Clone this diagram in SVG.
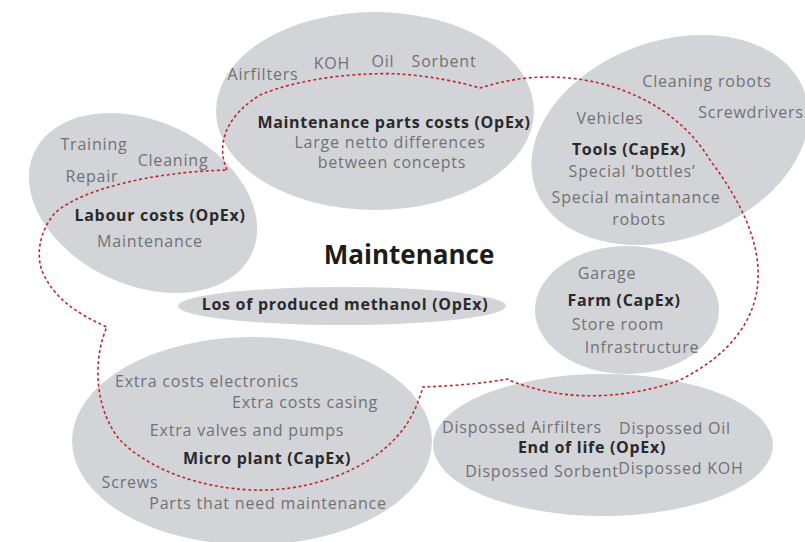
<svg xmlns="http://www.w3.org/2000/svg" width="805" height="542" viewBox="0 0 805 542">
<style>
.bub{fill:#d3d4d8}
text{font-family:"Open Sans","Liberation Sans",sans-serif;font-size:16px;text-anchor:middle}
.g{fill:#707175;letter-spacing:0.8px}
.b{fill:#2a2a2c;font-weight:bold;letter-spacing:0.7px}
.t{fill:#1c1c1c;font-weight:bold;font-size:26px;letter-spacing:0}
.dash{fill:none;stroke:#c0272d;stroke-width:1.6;stroke-dasharray:3 2.6}
</style>
<rect width="805" height="542" fill="#ffffff"/>
<g id="labour">
<ellipse class="bub" cx="143" cy="203" rx="120" ry="82" transform="rotate(25 143 203)"/>
<text class="g" x="94" y="150">Training</text>
<text class="g" x="173" y="166">Cleaning</text>
<text class="g" x="92" y="182">Repair</text>
<text class="b" x="160" y="221">Labour costs (OpEx)</text>
<text class="g" x="150" y="247">Maintenance</text>
</g>
<g id="parts">
<ellipse class="bub" cx="375" cy="111" rx="159" ry="99"/>
<text class="g" x="263" y="80">Airfilters</text>
<text class="g" x="332" y="69">KOH</text>
<text class="g" x="383" y="67">Oil</text>
<text class="g" x="444" y="67">Sorbent</text>
<text class="b" x="394" y="128">Maintenance parts costs (OpEx)</text>
<text class="g" x="390" y="148">Large netto differences</text>
<text class="g" x="392" y="168">between concepts</text>
</g>
<g id="tools">
<ellipse class="bub" cx="670" cy="140" rx="143" ry="99" transform="rotate(-20 670 140)"/>
<text class="g" x="707" y="87">Cleaning robots</text>
<text class="g" x="751" y="118">Screwdrivers</text>
<text class="g" x="610" y="124">Vehicles</text>
<text class="b" x="629" y="155">Tools (CapEx)</text>
<text class="g" x="632" y="177">Special ‘bottles’</text>
<text class="g" x="636" y="203">Special maintanance</text>
<text class="g" x="639" y="225">robots</text>
</g>
<g id="farm">
<ellipse class="bub" cx="627" cy="310" rx="92" ry="64"/>
<text class="g" x="607" y="279">Garage</text>
<text class="b" x="624" y="306">Farm (CapEx)</text>
<text class="g" x="618" y="330">Store room</text>
<text class="g" x="642" y="353">Infrastructure</text>
</g>
<g id="methanol">
<ellipse class="bub" cx="342" cy="306" rx="164" ry="19"/>
<text class="b" x="345" y="310">Los of produced methanol (OpEx)</text>
</g>
<g id="microplant">
<ellipse class="bub" cx="252" cy="441" rx="180" ry="104"/>
<text class="g" x="207" y="387">Extra costs electronics</text>
<text class="g" x="305" y="408">Extra costs casing</text>
<text class="g" x="247" y="436">Extra valves and pumps</text>
<text class="b" x="267" y="464">Micro plant (CapEx)</text>
<text class="g" x="130" y="488">Screws</text>
<text class="g" x="268" y="509">Parts that need maintenance</text>
</g>
<g id="endoflife">
<ellipse class="bub" cx="603" cy="445" rx="170" ry="71"/>
<text class="g" x="522" y="433">Dispossed Airfilters</text>
<text class="g" x="675" y="434">Dispossed Oil</text>
<text class="b" x="592" y="453">End of life (OpEx)</text>
<text class="g" x="542" y="477">Dispossed Sorbent</text>
<text class="g" x="681" y="474">Dispossed KOH</text>
</g>
<g id="title">
<text class="t" x="409" y="264">Maintenance</text>
</g>
<g id="connectors">
<path class="dash" d="M227 170 C218 150,220 120,260 95 C300 78,360 72,400 74 C430 76,460 82,480 88 C500 82,520 77,550 77 C620 78,680 110,710 160 C740 200,760 240,758 280 C756 320,730 355,680 380 C640 395,590 400,550 392 C530 388,515 383,507 379 C480 384,450 386,423 387 C419 400,413 418,400 433 C370 470,310 492,253 490 C200 488,150 470,120 440 C95 410,92 360,107 327 C80 315,55 300,43 273 C35 255,40 230,55 213 C80 190,150 172,227 170 Z"/>
</g>
</svg>
